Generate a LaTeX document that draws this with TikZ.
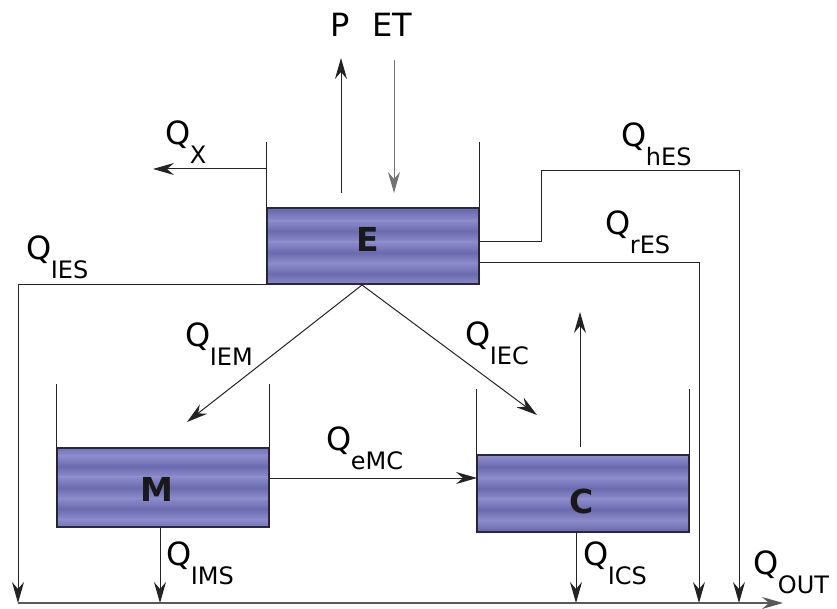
\documentclass[tikz,border=0pt]{standalone}
\usepackage{fontspec}
\setmainfont{DejaVu Sans}
\usetikzlibrary{arrows.meta,calc}
\definecolor{wlight}{RGB}{140,140,204}
\definecolor{wdark}{RGB}{106,106,174}
\definecolor{linec}{RGB}{35,35,35}
\definecolor{edgec}{RGB}{40,40,70}
\newcommand\qlab[1]{\fontsize{32}{32}\selectfont Q\kern-0.5pt\raisebox{-19pt}{\fontsize{24}{24}\selectfont #1}}
\tikzset{
  phase/.store in=\wphase, phase=0,
  water/.style={draw=edgec, line width=1.1pt, fill=wlight, inner sep=0pt,
    path picture={\foreach \k in {-1,...,4}{%
      \shade[top color=wlight,bottom color=wlight,middle color=wdark]
        ($(path picture bounding box.north west)+(-5,\wphase+21.3*\k-10.65)$) rectangle ++(300,21.3);}}},
  wall/.style={draw=linec, line width=1pt},
  flow/.style={draw=linec, line width=1pt, -{Stealth[length=21pt,width=12pt,inset=7pt]}},
  lbl/.style={inner sep=0pt, anchor=base west, text=black},
  tanklbl/.style={inner sep=0pt, font=\fontsize{33}{33}\selectfont\bfseries, text=black!90}
}
\begin{document}
\begin{tikzpicture}[x=1pt,y=-1pt]
\useasboundingbox (0,0) rectangle (837,609);
% tanks (water bodies)
\node[water, phase=2, minimum width=212pt, minimum height=76pt] (E) at (373,246) {};
\node[water, phase=-3, minimum width=212pt, minimum height=79pt] (M) at (163,487.5) {};
\node[water, phase=12, minimum width=212pt, minimum height=77pt] (C) at (583,493.5) {};
\node[tanklbl] (Elab) at (368,239) {E};
\node[tanklbl] (Mlab) at (157,489) {M};
\node[tanklbl] (Clab) at (582,501) {C};
% walls
\draw[wall] (E.south west) -- ++(0,-143);
\draw[wall] (E.south east) -- ++(0,-143);
\draw[wall] (M.south west) -- ++(0,-144);
\draw[wall] (M.south east) -- ++(0,-144);
\draw[wall] (C.south west) -- ++(0,-144);
\draw[wall] (C.south east) -- ++(0,-144);
% coordinates
\coordinate (xs) at (267,169);
\coordinate (xe) at (153,169);
\coordinate (ps) at (341,193);
\coordinate (pe) at (341,58);
\coordinate (ets) at (394,60);
\coordinate (ete) at (394,193);
\coordinate (eb) at (362,285);
\coordinate (mtip) at (187,422);
\coordinate (ctip) at (537,415);
\coordinate (hs) at (479,242);
\coordinate (rs) at (479,263);
\coordinate (mr) at (269,478);
\coordinate (cl) at (477,478);
\coordinate (cup1) at (580,447);
\coordinate (cup2) at (580,312);
\coordinate (ims) at (160,527);
\coordinate (ics) at (576,532);
\coordinate (bl) at (18,603);
\coordinate (br) at (783,603);
% labels
\node[lbl] (Plab) at (330,37) {\fontsize{32}{32}\selectfont P};
\node[lbl] (ETlab) at (372,37) {\fontsize{32}{32}\selectfont ET};
\node[lbl] (qx) at (165,145) {\qlab{X}};
\node[lbl] (qies) at (26,260) {\qlab{IES}};
\node[lbl] (qiem) at (185,346) {\qlab{IEM}};
\node[lbl] (qiec) at (465,345) {\qlab{IEC}};
\node[lbl] (qemc) at (326,450) {\qlab{eMC}};
\node[lbl] (qhes) at (621,147) {\qlab{hES}};
\node[lbl] (qres) at (605,235) {\qlab{rES}};
\node[lbl] (qout) at (753,574) {\qlab{OUT}};
\node[lbl] (qims) at (166,565) {\qlab{IMS}};
\node[lbl] (qics) at (583,565) {\qlab{ICS}};
% flows
\draw[flow] (xs) -- (xe);
\draw[flow] (ps) -- (pe);
\draw[flow, draw=black!55] (ets) -- (ete);
\draw[flow] (E.south west) -- (bl |- E.south west) -- (bl);
\draw[flow] (hs) -- (541,242) -- (541,171) -- (739,171) -- (739,603);
\draw[flow] (rs) -- (699,263) -- (699,603);
\draw[flow] (eb) -- (mtip);
\draw[flow] (eb) -- (ctip);
\draw[flow] (mr) -- (cl);
\draw[flow] (cup1) -- (cup2);
\draw[flow] (ims) -- (ims |- bl);
\draw[flow] (ics) -- (ics |- bl);
\draw[flow, draw=black!65, line width=1.6pt] (bl) -- (br);
\end{tikzpicture}
\end{document}
